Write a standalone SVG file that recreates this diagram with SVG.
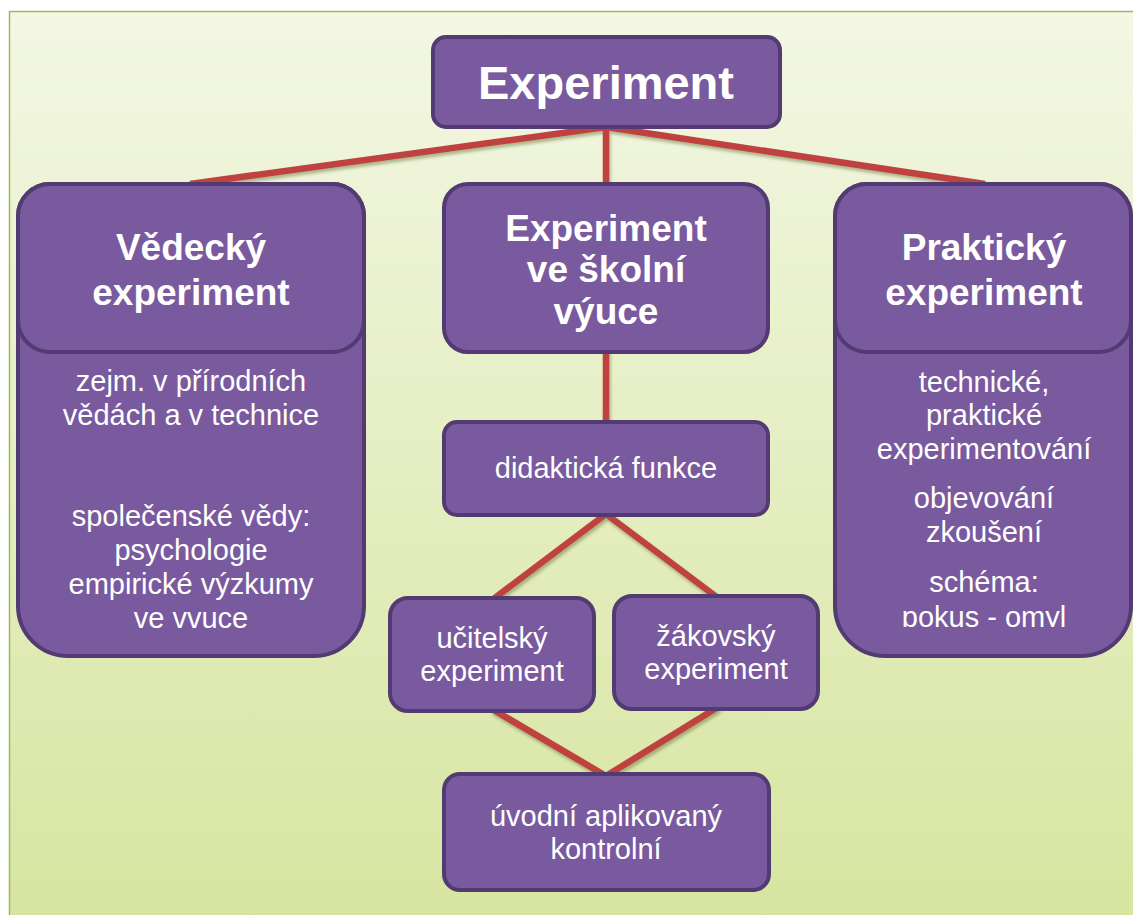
<svg xmlns="http://www.w3.org/2000/svg" width="1133" height="915" viewBox="0 0 1133 915">
  <defs>
    <linearGradient id="panelFill" x1="0" y1="0" x2="0" y2="1">
      <stop offset="0" stop-color="#f3f7e4"/>
      <stop offset="1" stop-color="#d7e5a0"/>
    </linearGradient>
    <filter id="lineShadow" x="-10%" y="-20%" width="120%" height="150%">
      <feDropShadow dx="1.5" dy="3" stdDeviation="1.8" flood-color="#5f6e30" flood-opacity="0.45"/>
    </filter>
    <clipPath id="clipPraktBody">
      <rect x="835" y="352" width="297" height="275"/>
    </clipPath>
  </defs>
  <style>
    .box { fill: #7a5a9e; stroke: #523a72; stroke-width: 4; }
    .link { stroke: #c0433f; stroke-width: 6.5; fill: none; stroke-linecap: butt; }
    .t { font-family: "Liberation Sans", Arial, sans-serif; fill: #ffffff; text-anchor: middle; }
    .title { font-size: 47px; font-weight: bold; }
    .head { font-size: 37px; font-weight: bold; }
    .body { font-size: 29px; }
  </style>

  <!-- page and green panel -->
  <rect x="0" y="0" width="1133" height="915" fill="#ffffff"/>
  <rect x="9.5" y="11.5" width="1130" height="910" fill="url(#panelFill)" stroke="#9bbb59" stroke-width="1.5"/>

  <!-- connectors -->
  <g id="connectors" filter="url(#lineShadow)">
    <line class="link" x1="606" y1="127" x2="190" y2="184"/>
    <line class="link" x1="606" y1="127" x2="985" y2="184"/>
    <line class="link" x1="606" y1="127" x2="606" y2="186"/>
    <line class="link" x1="606" y1="350" x2="606" y2="424"/>
    <line class="link" x1="606" y1="514" x2="492" y2="600"/>
    <line class="link" x1="606" y1="514" x2="718" y2="598"/>
    <line class="link" x1="492" y1="709" x2="606" y2="776"/>
    <line class="link" x1="718" y1="707" x2="606" y2="776"/>
  </g>

  <!-- root -->
  <g id="node-experiment">
    <rect class="box" x="433" y="37" width="347" height="90" rx="13"/>
    <text class="t title" x="606" y="99">Experiment</text>
  </g>

  <!-- scientific experiment -->
  <g id="node-vedecky">
    <path class="box" d="M50,184 H332 A32,32 0 0 1 364,216 V606 A50,50 0 0 1 314,656 H68 A50,50 0 0 1 18,606 V216 A32,32 0 0 1 50,184 Z"/>
    <rect class="box" x="18" y="184" width="346" height="168" rx="32"/>
    <text class="t head" x="191" y="260">Vědecký</text>
    <text class="t head" x="191" y="305">experiment</text>
    <text class="t body" x="191" y="391">zejm. v přírodních</text>
    <text class="t body" x="191" y="425">vědách a v technice</text>
    <text class="t body" x="191" y="526">společenské vědy:</text>
    <text class="t body" x="191" y="560">psychologie</text>
    <text class="t body" x="191" y="594">empirické výzkumy</text>
    <text class="t body" x="191" y="628">ve vvuce</text>
  </g>

  <!-- school experiment -->
  <g id="node-skolni">
    <rect class="box" x="444" y="184" width="324" height="168" rx="24"/>
    <text class="t head" x="606" y="241">Experiment</text>
    <text class="t head" x="606" y="282">ve školní</text>
    <text class="t head" x="606" y="324">výuce</text>
  </g>

  <!-- practical experiment -->
  <g id="node-prakticky">
    <path class="box" d="M867,184 H1099 A32,32 0 0 1 1131,216 V606 A50,50 0 0 1 1081,656 H885 A50,50 0 0 1 835,606 V216 A32,32 0 0 1 867,184 Z"/>
    <rect class="box" x="835" y="184" width="296" height="168" rx="32"/>
    <text class="t head" x="984" y="260">Praktický</text>
    <text class="t head" x="984" y="305">experiment</text>
    <g clip-path="url(#clipPraktBody)">
      <text class="t body" x="984" y="392">technické,</text>
      <text class="t body" x="984" y="425">praktické</text>
      <text class="t body" x="984" y="459">experimentování</text>
      <text class="t body" x="984" y="508">objevování</text>
      <text class="t body" x="984" y="542">zkoušení</text>
      <text class="t body" x="984" y="592">schéma:</text>
      <text class="t body" x="984" y="627">pokus - omyl</text>
    </g>
  </g>

  <!-- didactic function -->
  <g id="node-didakticka">
    <rect class="box" x="444" y="422" width="324" height="93" rx="13"/>
    <text class="t body" x="606" y="478">didaktická funkce</text>
  </g>

  <!-- teacher experiment -->
  <g id="node-ucitelsky">
    <rect class="box" x="390" y="598" width="204" height="113" rx="18"/>
    <text class="t body" x="492" y="648">učitelský</text>
    <text class="t body" x="492" y="681">experiment</text>
  </g>

  <!-- pupil experiment -->
  <g id="node-zakovsky">
    <rect class="box" x="614" y="596" width="204" height="113" rx="18"/>
    <text class="t body" x="716" y="646">žákovský</text>
    <text class="t body" x="716" y="679">experiment</text>
  </g>

  <!-- phases -->
  <g id="node-faze">
    <rect class="box" x="444" y="774" width="325" height="116" rx="16"/>
    <text class="t body" x="606" y="826">úvodní aplikovaný</text>
    <text class="t body" x="606" y="859">kontrolní</text>
  </g>
</svg>
